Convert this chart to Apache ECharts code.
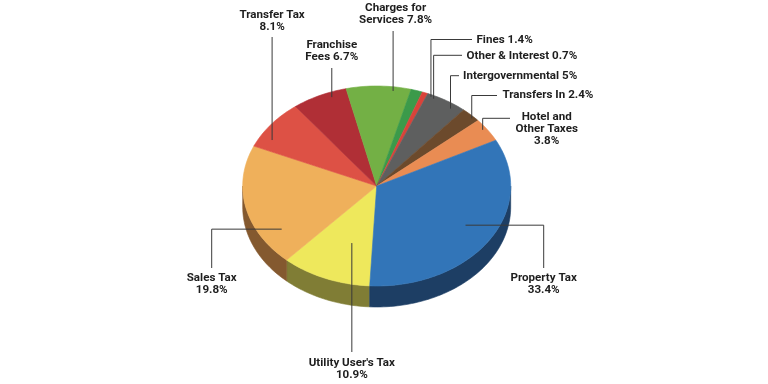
<!DOCTYPE html>
<html><head><meta charset="utf-8">
<script src="https://cdn.jsdelivr.net/npm/echarts@6/dist/echarts.min.js"></script>
<style>html,body{margin:0;padding:0;background:#fff}#c{width:768px;height:384px}</style>
</head><body><div id="c"></div>
<script>
// ---- data (clockwise from bottom) ----
const categories = ["Utility User's Tax","Sales Tax","Transfer Tax","Franchise Fees","Charges for Services","Fines","Other & Interest","Intergovernmental","Transfers In","Hotel and Other Taxes","Property Tax"];
const values = [10.9,19.8,8.1,6.7,7.8,1.4,0.7,5,2.4,3.8,33.4];
const labelNames = ["Utility User's Tax\n","Sales Tax\n","Transfer Tax\n","Franchise\nFees ","Charges for\nServices ","Fines ","Other & Interest ","Intergovernmental ","Transfers In ","Hotel and\nOther Taxes\n","Property Tax\n"];
const topColors = ['#eee85c','#efb05b','#dd5145','#b02f36','#73b045','#3b9a4a','#d9433a','#5e5f5f','#6c4a2c','#e98c53','#3275b8'];
const sideColors = ['#807d35','#84592f','#7a2a24','#5e1a1d','#3f6226','#205529','#782420','#333434','#3b2818','#80502e','#1d3e64'];

// ---- layout (label placement) ----
const CX = 376.7, CY = 186, RX = 134, RY = 100, DEPTH = 21, START = 93;
const labelLayout = [
  {kind:'v', r:0.6, da:-4.6, ly:352, ty:357.3, va:'top'},
  {kind:'side', r:0.83, da:-19.2, lx:211.7, ly:268, ty:272.3},
  {kind:'v', r:0.906, da:-7.6, ly:37, ty:32.5, va:'bottom'},
  {kind:'v', r:0.95, da:4.6, ly:68, ty:62.5, va:'bottom'},
  {kind:'v', r:0.958, da:6.5, ly:31, ty:26, va:'bottom', dx:2.5},
  {kind:'ur', r:0.98, da:7, lx:472, ly:39.5, tx:476.5, ty:39.8},
  {kind:'ur', r:0.97, da:4.8, lx:462, ly:55.3, tx:466.5, ty:55.6},
  {kind:'ur', r:0.95, da:4, lx:459, ly:75.7, tx:463, ty:76},
  {kind:'ur', r:0.98, da:1.6, lx:497, ly:95.5, tx:502.5, ty:94.8},
  {kind:'ur', r:0.97, da:-1.3, lx:510, ly:118.3, tx:546.7, ty:111.3, align:'center', va:'top'},
  {kind:'side', r:0.77, da:-2.3, lx:543.7, ly:268, ty:272.3}
];

const total = values.reduce((a,b)=>a+b,0);
function ell(a, r){ const t=a*Math.PI/180; return [CX+RX*r*Math.cos(t), CY+RY*r*Math.sin(t)]; }
function arc(a0,a1,dy){
  const pts=[]; const n=Math.max(2,Math.ceil(Math.abs(a1-a0)/1.5));
  for(let i=0;i<=n;i++){ const p=ell(a0+(a1-a0)*i/n,1); pts.push([p[0],p[1]+dy]); }
  return pts;
}
const FONT = "bold 11.6px Roboto";

function renderItem(params, api){
  const i = params.dataIndex;
  let a0 = START;
  for(let j=0;j<i;j++) a0 += values[j]/total*360;
  const a1 = a0 + api.value(0)/total*360;
  const children = [];
  for(const k of [0,360]){
    const s=Math.max(a0,k), e=Math.min(a1,k+180);
    if(e>s){
      children.push({type:'polygon', z2:1, shape:{points:arc(s,e,0).concat(arc(e,s,DEPTH))},
        style:{fill:sideColors[i], stroke:sideColors[i], lineWidth:0.6}});
    }
  }
  children.push({type:'polygon', z2:2, shape:{points:[[CX,CY]].concat(arc(a0,a1,0))},
    style:{fill:topColors[i], stroke:topColors[i], lineWidth:0.6}});
  // label + leader
  const L = labelLayout[i];
  const mid = (a0+a1)/2 + L.da;
  const p = ell(mid, L.r);
  const txt = labelNames[i] + values[i] + '%';
  let pts, tx, ty, align, va;
  if(L.kind==='v'){
    pts=[p,[p[0],L.ly]]; tx=p[0]+(L.dx||0); ty=L.ty; align='center'; va=L.va;
  } else if(L.kind==='side'){
    pts=[p,[L.lx,p[1]],[L.lx,L.ly]]; tx=L.lx; ty=L.ty; align='center'; va='top';
  } else {
    pts=[p,[p[0],L.ly],[L.lx,L.ly]]; tx=L.tx; ty=L.ty; align=L.align||'left'; va=L.va||'middle';
  }
  children.push({type:'polyline', z2:5, shape:{points:pts}, style:{stroke:'#3a3a3a', lineWidth:1, fill:null}});
  children.push({type:'text', z2:6, x:tx, y:ty, style:{text:txt, fill:'#1e1e1e', font:FONT, align:align, verticalAlign:va, lineHeight:11.8}});
  return {type:'group', children};
}

const chart = echarts.init(document.getElementById('c'), null, {renderer:'canvas'});
chart.setOption({
  backgroundColor:'#ffffff',
  animation:false,
  series:[{
    type:'custom',
    coordinateSystem:'none',
    silent:true,
    renderItem: renderItem,
    data: values.map((v,i)=>({name:categories[i], value:[v]}))
  }]
});
</script>
</body></html>
